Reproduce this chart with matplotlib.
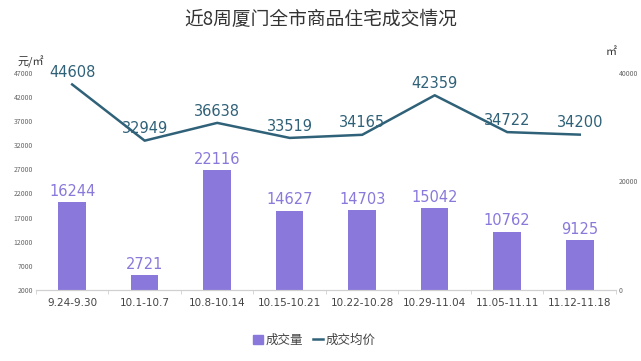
import matplotlib
matplotlib.use("Agg")
import matplotlib.pyplot as plt
import numpy as np

plt.rcParams['font.family'] = ['Noto Sans CJK SC', 'DejaVu Sans']

categories = ["9.24-9.30", "10.1-10.7", "10.8-10.14", "10.15-10.21", "10.22-10.28",
              "10.29-11.04", "11.05-11.11", "11.12-11.18"]
volume = [16244, 2721, 22116, 14627, 14703, 15042, 10762, 9125]
price = [44608, 32949, 36638, 33519, 34165, 42359, 34722, 34200]
left_ticks = [2000, 7000, 12000, 17000, 22000, 27000, 32000, 37000, 42000, 47000]
right_ticks = [0, 20000, 40000]

bar_color = "#8a78db"
line_color = "#2f6178"

fig = plt.figure(figsize=(6.41, 3.61), dpi=100)
ax_price = fig.add_axes([0.056, 0.197, 0.905, 0.601])
ax_vol = ax_price.twinx()

x = np.arange(len(categories))

ax_vol.bar(x, volume, width=0.38, color=bar_color, zorder=2)
for xi, v in zip(x, volume):
    ax_vol.text(xi, v + 600, str(v), ha="center", va="bottom", color=bar_color, fontsize=10.5,
                family="DejaVu Sans")
ax_vol.set_ylim(0, 40000)
ax_vol.set_yticks(right_ticks)
ax_vol.set_yticklabels([str(t) for t in right_ticks], fontsize=5, color="#666666")

ax_price.plot(x, price, color=line_color, lw=1.8, zorder=3)
for xi, p in zip(x, price):
    ax_price.text(xi, p + 900, str(p), ha="center", va="bottom", color=line_color, fontsize=10.5,
                  family="DejaVu Sans")
ax_price.set_ylim(2000, 47000)
ax_price.set_yticks(left_ticks)
ax_price.set_yticklabels([str(t) for t in left_ticks], fontsize=5, color="#666666")
ax_price.set_xlim(-0.5, len(categories) - 0.5)
ax_price.set_xticks(x)
ax_price.set_xticklabels(categories, fontsize=7.5, color="#444444", family="DejaVu Sans")
ax_price.set_xticks(np.arange(-0.5, len(categories), 1), minor=True)
ax_price.tick_params(axis="x", which="major", length=0, pad=6)
ax_price.tick_params(axis="x", which="minor", length=3, color="#d0d0d0")
ax_price.tick_params(axis="y", length=0, pad=2)
ax_vol.tick_params(axis="y", length=0, pad=2)

ax_price.set_zorder(ax_vol.get_zorder() + 1)
ax_price.patch.set_visible(False)

for a in (ax_price, ax_vol):
    for s in ("top", "left", "right"):
        a.spines[s].set_visible(False)
    a.spines["bottom"].set_color("#d0d0d0")
    a.spines["bottom"].set_linewidth(0.8)

fig.text(0.5, 0.945, "近8周厦门全市商品住宅成交情况", ha="center", va="center",
         fontsize=13.5, color="#333333")
fig.text(0.048, 0.828, "元/㎡", ha="center", va="center", fontsize=8, color="#333333")
fig.text(0.953, 0.855, "㎡", ha="center", va="center", fontsize=8, color="#333333")

from matplotlib.patches import Patch
from matplotlib.lines import Line2D
handles = [Patch(color=bar_color, label="成交量"),
           Line2D([0], [0], color=line_color, lw=1.8, label="成交均价")]
fig.legend(handles=handles, loc="center", bbox_to_anchor=(0.49, 0.058), ncol=2, frameon=False,
           fontsize=9, handlelength=0.8, handletextpad=0.2, columnspacing=0.8,
           labelcolor="#444444")

fig.savefig("out.png", dpi=100, facecolor="white")
